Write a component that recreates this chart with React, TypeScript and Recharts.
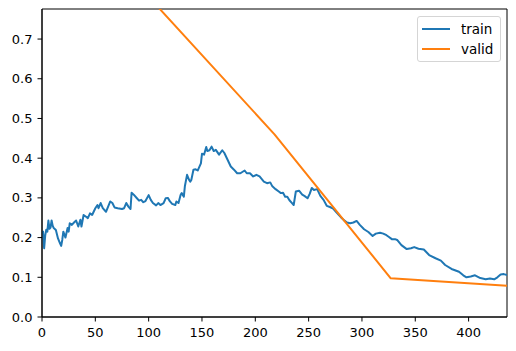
import React from "react";
import { LineChart, Line, XAxis, YAxis, Legend, ReferenceArea } from "recharts";

const trainSteps = [
  0, 1, 2, 3, 4, 5, 6, 7, 8, 9, 10, 11, 13, 15, 17, 18, 19, 20, 22, 24, 25, 26, 28, 30, 32, 34, 36, 37, 39, 41,
  43, 45, 47, 50, 52, 53, 55, 57, 60, 62, 64, 66, 68, 71, 75, 77, 79, 81, 83, 84, 86, 89, 91, 93, 95, 97, 100, 102,
  104, 107, 109, 111, 114, 116, 118, 120, 122, 125, 126, 128, 130, 131, 133, 134, 136, 138, 139, 140, 142, 144, 146,
  147, 149, 150, 152, 154, 155, 157, 159, 161, 163, 166, 169, 171, 174, 177, 180, 183, 186, 190, 192, 195, 198, 201,
  204, 208, 211, 214, 216, 219, 222, 224, 226, 228, 230, 232, 234, 236, 238, 241, 244, 246, 249, 251, 253, 255, 258,
  261, 264, 267, 270, 273, 275, 278, 280, 283, 286, 289, 292, 295, 298, 302, 306, 310, 313, 317, 320, 323, 325, 328,
  331, 333, 337, 342, 346, 349, 353, 358, 363, 369, 374, 378, 384, 391, 395, 398, 402, 406, 411, 416, 420, 424, 427,
  430, 433, 436,
];

const trainLoss = [
  0.21, 0.215, 0.173, 0.205, 0.22, 0.215, 0.243, 0.222, 0.225, 0.243, 0.23, 0.224, 0.219, 0.198, 0.185, 0.179, 0.194,
  0.215, 0.2, 0.224, 0.215, 0.236, 0.232, 0.238, 0.243, 0.228, 0.245, 0.228, 0.257, 0.253, 0.249, 0.261, 0.257, 0.274,
  0.282, 0.274, 0.287, 0.274, 0.265, 0.278, 0.291, 0.287, 0.276, 0.274, 0.272, 0.274, 0.287, 0.278, 0.272, 0.313,
  0.308, 0.299, 0.293, 0.295, 0.289, 0.292, 0.307, 0.295, 0.287, 0.281, 0.287, 0.282, 0.287, 0.299, 0.3, 0.291, 0.285,
  0.282, 0.291, 0.287, 0.308, 0.312, 0.303, 0.33, 0.358, 0.345, 0.341, 0.345, 0.371, 0.372, 0.369, 0.375, 0.387,
  0.411, 0.409, 0.428, 0.418, 0.42, 0.429, 0.418, 0.421, 0.409, 0.42, 0.413, 0.396, 0.379, 0.371, 0.362, 0.362, 0.369,
  0.362, 0.362, 0.354, 0.358, 0.354, 0.341, 0.337, 0.339, 0.329, 0.322, 0.316, 0.312, 0.313, 0.303, 0.303, 0.294,
  0.288, 0.282, 0.316, 0.318, 0.308, 0.305, 0.299, 0.31, 0.325, 0.32, 0.322, 0.305, 0.295, 0.28, 0.277, 0.273, 0.267,
  0.258, 0.252, 0.244, 0.238, 0.236, 0.238, 0.242, 0.232, 0.221, 0.214, 0.204, 0.21, 0.212, 0.21, 0.206, 0.202, 0.196,
  0.196, 0.194, 0.181, 0.171, 0.173, 0.176, 0.172, 0.17, 0.156, 0.148, 0.142, 0.131, 0.121, 0.114, 0.105, 0.1, 0.102,
  0.105, 0.098, 0.095, 0.097, 0.095, 0.1, 0.107, 0.108, 0.106,
];

const validSteps = [109, 218, 327, 436];
const validLoss = [0.78, 0.46, 0.0975, 0.079];

const xTicks = [0, 50, 100, 150, 200, 250, 300, 350, 400];
const yTicks = [0, 0.1, 0.2, 0.3, 0.4, 0.5, 0.6, 0.7];
const xMax = 436;
const yMax = 0.7757;

const trainData = trainSteps.map((s, i) => ({ step: s, train: trainLoss[i] }));
const validData = validSteps.map((s, i) => ({ step: s, valid: validLoss[i] }));

const FONT = "'DejaVu Sans', sans-serif";
const TICK_STYLE = { fill: "#000", fontSize: 13, fontFamily: FONT };

const renderLegend = (props: any) => {
  const { payload } = props;
  return (
    <div
      style={{
        boxSizing: "border-box",
        width: 84,
        height: 46,
        border: "1px solid #d5d5d5",
        borderRadius: 3,
        background: "rgba(255,255,255,0.8)",
        padding: "2px 4px",
        fontFamily: FONT,
      }}
    >
      {(payload || []).map((p: any) => (
        <div key={p.value} style={{ display: "flex", alignItems: "center", height: 20 }}>
          <span style={{ display: "inline-block", width: 28, height: 2, background: p.color, marginRight: 11 }} />
          <span style={{ fontSize: 13.5, lineHeight: "14px", color: "#000" }}>{p.value}</span>
        </div>
      ))}
    </div>
  );
};

export default function App() {
  return (
    <div style={{ position: "absolute", left: 0, top: 0, width: 516, height: 351, background: "#fff" }}>
      <LineChart
        width={516}
        height={351}
        margin={{ top: 9, right: 9, bottom: 0, left: 0 }}
        style={{ fontFamily: FONT, fontSize: 13 }}
      >
        <XAxis
          dataKey="step"
          type="number"
          domain={[0, xMax]}
          allowDataOverflow
          ticks={xTicks}
          height={34}
          tickSize={4.5}
          tickMargin={6.5}
          stroke="#000"
          fontSize={13}
          fontFamily={FONT}
          tick={TICK_STYLE}
          axisLine={{ stroke: "#000" }}
          tickLine={{ stroke: "#000" }}
        />
        <YAxis
          type="number"
          domain={[0, yMax]}
          allowDataOverflow
          ticks={yTicks}
          width={42}
          tickSize={4.5}
          tickMargin={5}
          fontSize={13}
          fontFamily={FONT}
          tickFormatter={(v: number) => v.toFixed(1)}
          tick={TICK_STYLE}
          axisLine={{ stroke: "#000" }}
          tickLine={{ stroke: "#000" }}
        />
        <ReferenceArea x1={0} x2={xMax} y1={0} y2={yMax} fill="none" stroke="#000" strokeWidth={1} />
        <Line
          data={trainData}
          dataKey="train"
          name="train"
          type="linear"
          stroke="#1f77b4"
          strokeWidth={2}
          strokeLinejoin="round"
          dot={false}
          isAnimationActive={false}
        />
        <Line
          data={validData}
          dataKey="valid"
          name="valid"
          type="linear"
          stroke="#ff7f0e"
          strokeWidth={2}
          strokeLinejoin="round"
          dot={false}
          isAnimationActive={false}
        />
        <Legend
          layout="vertical"
          align="center"
          verticalAlign="middle"
          content={renderLegend}
          wrapperStyle={{ position: "absolute", left: 417, top: 16, width: 84, height: 46 }}
        />
      </LineChart>
    </div>
  );
}
